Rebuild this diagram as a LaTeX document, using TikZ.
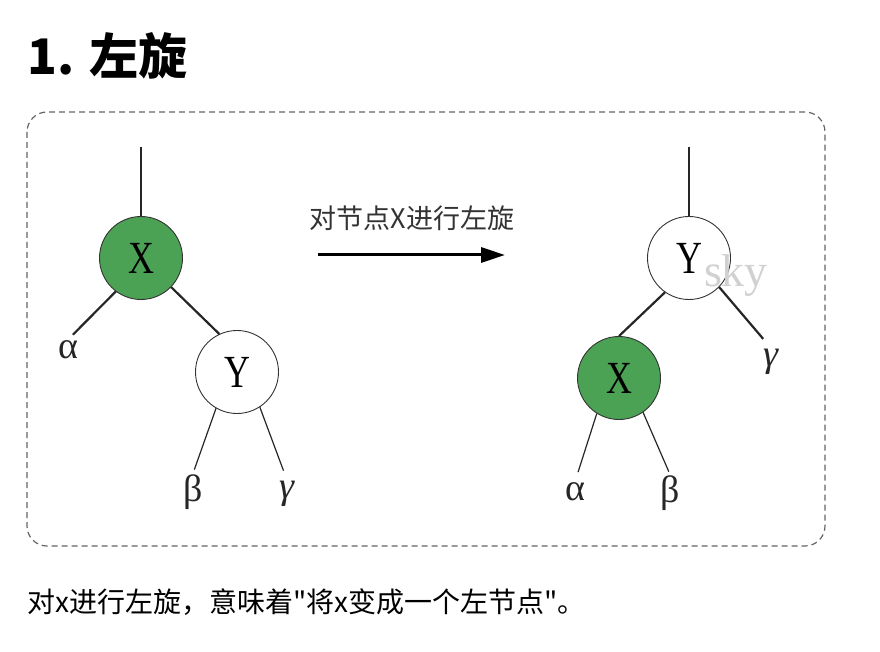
\documentclass[tikz,border=0pt]{standalone}
\usepackage{fontspec}
\setmainfont{Liberation Serif}
\newfontfamily\cjk{Noto Sans CJK SC}
\newfontfamily\keyfont[FakeStretch=0.78]{Liberation Serif}
\usetikzlibrary{arrows.meta}
\definecolor{rbgreen}{RGB}{76,162,84}
\definecolor{framegray}{RGB}{100,100,100}
\tikzset{
  rbnode/.style={circle, draw=black!80, line width=0.9pt, minimum size=83pt, inner sep=0pt, font=\keyfont\fontsize{46}{46}\selectfont},
  greennode/.style={rbnode, fill=rbgreen},
  whitenode/.style={rbnode, fill=white},
  leaf/.style={inner sep=1pt, text=black!85, font=\fontsize{38}{38}\selectfont},
  edge/.style={line width=2.2pt, black!85},
  thinedge/.style={line width=1.2pt, black!85},
  dashframe/.style={draw=framegray, line width=1.2pt, dash pattern=on 6pt off 4pt, rounded corners=20pt},
}

\begin{document}
\begin{tikzpicture}[x=1pt,y=-1pt]

    \useasboundingbox (0,0) rectangle (880,652);

    \node[anchor=west, inner sep=0pt, font=\cjk\bfseries\fontsize{49}{49}\selectfont] (title) at (27,56) {1. 左旋};
    \draw[dashframe] (27,112) rectangle (825,546);

    % before
    \coordinate (t1) at (141,147);
    \node[greennode] (x1) at (141,258) {X};
    \node[whitenode] (y1) at (237,372) {Y};
    \node[leaf] (a1) at (68,350) {α};
    \node[leaf] (b1) at (193,492) {β};
    \node[leaf] (c1) at (287,494) {\itshape γ};

    \draw[edge] (t1) -- (x1.north);
    \draw[edge] (x1.316) -- (y1.115);
    \draw[edge, shorten >=7pt] (x1.233) -- (a1.north);
    \draw[thinedge, shorten >=4pt] (y1.240) -- (b1.north);
    \draw[thinedge, shorten >=10pt] (y1.303) -- (c1.north);

    % rotate
    \coordinate (r1) at (318,255);
    \coordinate (r2) at (505,255);
    \draw[line width=3pt, -{Triangle[length=24pt,width=15pt]}] (r1) -- (r2);
    \node[font=\cjk\fontsize{27}{27}\selectfont, text=black!80] (rot) at (412,218) {对节点X进行左旋};

    % after
    \coordinate (t2) at (689,147);
    \node[whitenode] (y2) at (689,258) {Y};
    \node[greennode] (x2) at (619,378) {X};
    \node[leaf] (a2) at (575,492) {α};
    \node[leaf] (b2) at (670,493) {β};
    \node[leaf] (c2) at (771,362) {\itshape γ};

    \draw[edge] (t2) -- (y2.north);
    \draw[edge] (y2.235) -- (x2.north);
    \draw[edge, shorten >=12pt] (y2.316) -- (c2.north);
    \draw[thinedge, shorten >=10pt] (x2.238) -- (a2.north);
    \draw[thinedge, shorten >=3pt] (x2.305) -- (b2.north);

    \node[text=black!18, font=\fontsize{46}{46}\selectfont] (sky) at (736,276) {sky};

    \node[anchor=west, inner sep=0pt, font=\cjk\fontsize{28}{28}\selectfont] (note) at (27,602) {对x进行左旋，意味着"将x变成一个左节点"。};

\end{tikzpicture}
\end{document}
